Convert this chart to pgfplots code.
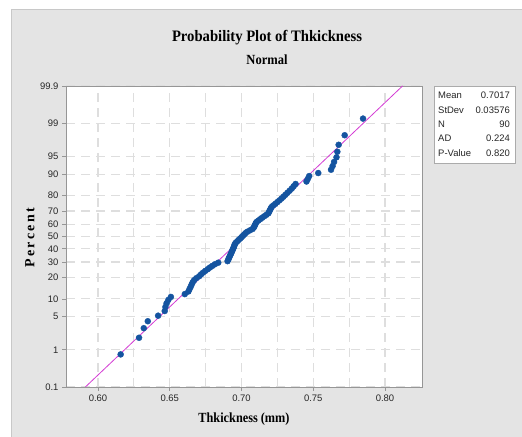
\documentclass[border=0pt]{standalone}
\usepackage{pgfplots}
\pgfplotsset{compat=1.18}
\usepackage{fontspec}
\setmainfont{Liberation Serif}
\newfontfamily\sansf{Liberation Sans}
\definecolor{bggray}{RGB}{228,228,228}
\definecolor{bgline}{RGB}{200,200,200}
\definecolor{gridc}{RGB}{222,222,222}
\definecolor{dotblue}{RGB}{20,84,160}
\definecolor{fitmag}{RGB}{212,60,212}
\definecolor{framec}{RGB}{150,150,150}
\begin{document}
\begin{tikzpicture}[x=1bp,y=1bp]
\useasboundingbox (0,0) rectangle (522,437);
\fill[white] (0,0) rectangle (522,437);
\fill[bggray] (11,0) rectangle (522,428);
\draw[bgline,line width=0.8bp] (11,0) -- (11,428) -- (522,428);
\begin{axis}[
  at={(66bp,50bp)}, anchor=south west, scale only axis,
  width=356bp, height=301bp,
  xmin=0.5777, xmax=0.8258, ymin=-3.0902, ymax=3.0902,
  axis background/.style={fill=white},
  axis line style={framec, line width=0.8bp},
  xtick={0.60,0.65,0.70,0.75,0.80},
  xticklabels={0.60,0.65,0.70,0.75,0.80},
  minor xtick={0.625,0.675,0.725,0.775},
  ytick={-3.0902,-2.3263,-1.6449,-1.2816,-0.8416,-0.5244,-0.2533,0,0.2533,0.5244,0.8416,1.2816,1.6449,2.3263,3.0902},
  yticklabels={0.1,1,5,10,20,30,40,50,60,70,80,90,95,99,99.9},
  xmajorgrids, xminorgrids, ymajorgrids,
  grid style={gridc, line width=1.1bp, dash pattern=on 9bp off 6bp},
  minor grid style={gridc, line width=1.1bp, dash pattern=on 9bp off 6bp},
  tick align=outside, major tick length=4bp, minor tick length=0pt,
  xtick pos=bottom, ytick pos=left,
  tick style={framec, line width=0.7bp},
  ticklabel style={font=\sansf\fontsize{9.5}{11}\selectfont, text=black!85},
  clip=true,
]
\addplot[only marks, mark=*, mark size=3bp, color=dotblue, mark options={draw=dotblue, fill=dotblue}] table[row sep=\\] {
x z \\
0.6158 -2.421 \\
0.6286 -2.079 \\
0.6319 -1.883 \\
0.6347 -1.740 \\
0.6419 -1.626 \\
0.6465 -1.530 \\
0.6470 -1.446 \\
0.6478 -1.371 \\
0.6490 -1.303 \\
0.6508 -1.241 \\
0.6605 -1.183 \\
0.6630 -1.129 \\
0.6638 -1.078 \\
0.6646 -1.030 \\
0.6653 -0.984 \\
0.6660 -0.940 \\
0.6670 -0.897 \\
0.6685 -0.856 \\
0.6705 -0.817 \\
0.6718 -0.779 \\
0.6732 -0.742 \\
0.6748 -0.706 \\
0.6765 -0.671 \\
0.6780 -0.637 \\
0.6797 -0.603 \\
0.6815 -0.570 \\
0.6838 -0.538 \\
0.6903 -0.506 \\
0.6908 -0.475 \\
0.6912 -0.444 \\
0.6917 -0.414 \\
0.6922 -0.383 \\
0.6926 -0.354 \\
0.6931 -0.325 \\
0.6935 -0.296 \\
0.6939 -0.267 \\
0.6944 -0.238 \\
0.6947 -0.210 \\
0.6951 -0.182 \\
0.6954 -0.154 \\
0.6961 -0.126 \\
0.6971 -0.097 \\
0.6981 -0.069 \\
0.6991 -0.042 \\
0.7000 -0.014 \\
0.7010 0.014 \\
0.7019 0.042 \\
0.7028 0.069 \\
0.7040 0.097 \\
0.7059 0.126 \\
0.7077 0.154 \\
0.7085 0.182 \\
0.7090 0.210 \\
0.7094 0.238 \\
0.7099 0.267 \\
0.7104 0.296 \\
0.7117 0.325 \\
0.7130 0.354 \\
0.7143 0.383 \\
0.7158 0.414 \\
0.7173 0.444 \\
0.7187 0.475 \\
0.7192 0.506 \\
0.7198 0.538 \\
0.7203 0.570 \\
0.7209 0.603 \\
0.7221 0.637 \\
0.7236 0.671 \\
0.7250 0.706 \\
0.7264 0.742 \\
0.7279 0.779 \\
0.7292 0.817 \\
0.7306 0.856 \\
0.7320 0.897 \\
0.7335 0.940 \\
0.7350 0.984 \\
0.7363 1.030 \\
0.7377 1.078 \\
0.7453 1.129 \\
0.7462 1.183 \\
0.7472 1.241 \\
0.7535 1.303 \\
0.7624 1.371 \\
0.7635 1.446 \\
0.7645 1.530 \\
0.7662 1.626 \\
0.7668 1.740 \\
0.7677 1.883 \\
0.7719 2.079 \\
0.7847 2.421 \\
};
\addplot[fitmag, line width=0.8bp] coordinates {(0.59119,-3.0902) (0.81221,3.0902)};
\end{axis}
% title
\node[font=\bfseries\fontsize{16}{18}\selectfont] at (267,399) {\scalebox{0.92}[1]{Probability Plot of Thkickness}};
\node[font=\bfseries\fontsize{14}{16}\selectfont] at (267,377) {\scalebox{0.9}[1]{Normal}};
% axis labels
\node[font=\bfseries\fontsize{14}{16}\selectfont] at (244,18) {\scalebox{0.88}[1]{Thkickness (mm)}};
\node[font=\bfseries\fontsize{14}{16}\selectfont, rotate=90] at (30,199) {P\,e\,r\,c\,e\,n\,t};
% statistics box
\draw[framec!80, line width=0.7bp, fill=white] (434,274) rectangle (515,351);
\begin{scope}[every node/.style={font=\sansf\fontsize{9.5}{11}\selectfont, inner sep=0pt, text=black!85}]
\node[anchor=west] at (438,341.4) {Mean};
\node[anchor=west] at (438,327.1) {StDev};
\node[anchor=west] at (438,312.8) {N};
\node[anchor=west] at (438,298.5) {AD};
\node[anchor=west] at (438,284.2) {P-Value};
\node[anchor=east] at (510,341.4) {0.7017};
\node[anchor=east] at (510,327.1) {0.03576};
\node[anchor=east] at (510,312.8) {90};
\node[anchor=east] at (510,298.5) {0.224};
\node[anchor=east] at (510,284.2) {0.820};
\end{scope}
\end{tikzpicture}
\end{document}
